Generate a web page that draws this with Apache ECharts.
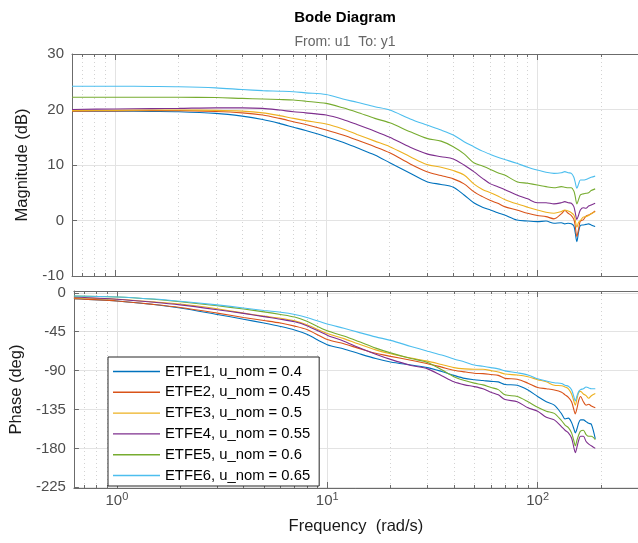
<!DOCTYPE html>
<html><head><meta charset="utf-8">
<script src="https://cdn.jsdelivr.net/npm/echarts@6/dist/echarts.min.js"></script>
<style>html,body{margin:0;padding:0;background:#fff}#c{width:638px;height:543px}</style>
</head><body><div id="c"></div>
<script>
const freq = [0.625,1,1.5,2,3,4,5,6,7,8,10,12,14,17,20,25,30,35,40,45,50,55,60,65,70,80,90,100,110,120,130,135,140,145,149,151,154,157,160,165,170,175,180,188];
const seriesNames = ['ETFE1, u_nom = 0.4','ETFE2, u_nom = 0.45','ETFE3, u_nom = 0.5','ETFE4, u_nom = 0.55','ETFE5, u_nom = 0.6','ETFE6, u_nom = 0.65'];
const magETFE1 = [19.7,19.7,19.65,19.6,19.3,18.8,18.2,17.5,16.8,16.2,15.1,14.1,13.1,11.8,10.4,8.5,7.0,6.5,6.0,4.6,3.2,2.4,1.9,1.4,1.0,0.1,-0.1,-0.2,-0.1,-0.5,-0.4,-0.6,-0.5,-0.6,-1.0,-2.0,-3.8,-2.0,-0.9,-0.8,-0.7,-0.6,-0.8,-1.1];
const magETFE2 = [19.7,19.75,19.8,19.8,19.65,19.4,19.0,18.4,17.8,17.3,16.3,15.4,14.5,13.3,12.2,10.2,8.8,8.1,7.5,6.6,5.2,4.3,3.6,3.1,2.5,1.9,1.3,0.9,0.7,0.3,1.2,1.8,1.3,0.9,0.2,-0.8,-2.9,-1.5,-0.1,0.1,0.8,1.0,1.2,1.7];
const magETFE3 = [19.8,19.85,19.9,19.9,19.85,19.7,19.4,18.9,18.4,18.0,17.4,16.5,15.5,14.3,13.3,11.5,10.1,9.6,9.0,8.2,6.6,5.6,5.0,4.4,3.8,3.0,2.4,1.9,1.5,1.3,1.6,1.9,1.7,1.4,1.0,0.3,-1.2,-0.3,0.0,0.6,0.7,0.9,1.2,1.6];
const magETFE4 = [20.0,20.1,20.15,20.2,20.3,20.3,20.2,19.9,19.6,19.4,19.0,18.2,17.3,16.1,15.0,13.2,12.0,11.5,11.1,10.0,8.8,7.6,6.6,6.1,5.6,4.6,3.9,3.2,3.2,3.0,3.2,3.4,3.2,3.1,2.5,1.6,0.2,1.0,1.9,2.3,2.2,2.6,2.8,3.1];
const magETFE5 = [22.2,22.2,22.2,22.2,22.15,22.0,21.9,21.8,21.7,21.5,21.1,20.3,19.5,18.4,17.6,16.0,14.8,14.3,13.3,12.0,10.4,9.8,9.2,8.6,8.2,7.0,6.7,6.4,6.1,5.9,6.1,6.0,5.9,5.9,5.3,4.5,3.0,3.8,4.6,4.8,4.9,5.0,5.4,5.7];
const magETFE6 = [24.2,24.2,24.15,24.1,23.9,23.6,23.4,23.3,23.2,23.0,22.7,21.9,21.3,20.5,19.9,18.3,17.2,16.3,15.4,14.2,13.3,12.5,11.9,11.4,11.0,10.3,9.6,9.1,8.7,8.5,8.6,8.8,8.6,8.5,7.8,7.0,5.8,6.6,7.3,7.3,7.4,7.6,7.8,8.0];
const phaseETFE1 = [-6.7,-9.4,-13.5,-17.5,-25,-30.5,-35,-39,-43,-48,-60,-65,-70,-76,-80,-83.5,-86.5,-91,-95.5,-99,-100.5,-101.5,-102.5,-103,-106,-107,-112.5,-120,-126,-130,-140,-146,-145,-150,-158,-162,-157,-150,-147,-147,-149,-151,-152,-169];
const phaseETFE2 = [-6.7,-9.4,-13.5,-17,-23.5,-28.5,-32,-35,-38.5,-42.5,-54,-59,-64,-70,-73.5,-78,-82,-86,-89.5,-91.5,-93,-93.5,-94.5,-95.5,-99,-100,-104.5,-109.5,-111,-112.5,-115,-118,-121,-126,-136,-140,-133,-124,-120,-126,-130,-129,-131,-133];
const phaseETFE3 = [-5.6,-7.5,-10.5,-13,-18.5,-23.5,-27,-29.5,-32.5,-37,-47,-53,-59,-66,-70.5,-75.5,-79,-83,-86.5,-88,-88.5,-88.5,-90,-91.5,-94,-95,-97,-100.5,-103,-107,-107.5,-109,-111,-117,-126,-130,-122,-115,-114,-117,-119,-122,-119,-116.5];
const phaseETFE4 = [-4.8,-7.5,-11,-14,-19.5,-23.8,-27.5,-30.5,-33.5,-38,-49,-56,-63,-71,-77,-84,-88,-96,-103,-106.5,-108.5,-111,-115,-118,-123.5,-126,-133,-137,-144,-147,-155,-159,-162,-168,-180,-185,-178,-170,-166,-166,-172,-175,-177,-180];
const phaseETFE5 = [-3.7,-4.8,-7.5,-10.3,-15,-18.8,-22,-25,-28,-33,-44,-50,-56,-64,-69.5,-76,-80.5,-89,-97,-101.5,-104.5,-106.5,-109.5,-112,-118,-120,-126,-132.5,-137,-139.5,-148,-153,-156,-162,-172,-177,-170,-164,-160,-159,-164,-166,-166,-170];
const phaseETFE6 = [-3.7,-4.8,-7.2,-9.8,-14,-17.5,-20.5,-22.5,-25,-28.5,-36,-41,-45.5,-51,-55,-62,-67.5,-72,-76.5,-80,-83.5,-85,-86.5,-88,-90.3,-92.5,-95,-99.5,-102,-104,-105,-107,-108,-112,-121,-125,-119,-114,-112,-111,-109,-110,-111,-111];
const magTicks = [-10,0,10,20,30];
const phaseTicks = [0,-45,-90,-135,-180,-225];
const decadeTicks = [1,10,100];
const minorFreqTicks = [0.7,0.8,0.9,2,3,4,5,6,7,8,9,20,30,40,50,60,70,80,90,200];
const freqRange = [0.625, 300];
const magRange = [-10, 30];
const phaseRange = [-225.8, 2.1];

const colors = ['#0072BD','#D95319','#EDB120','#7E2F8E','#77AC30','#4DBEEE'];
const mags = [magETFE1,magETFE2,magETFE3,magETFE4,magETFE5,magETFE6];
const phases = [phaseETFE1,phaseETFE2,phaseETFE3,phaseETFE4,phaseETFE5,phaseETFE6];
const FONT = '"Liberation Sans", Arial, Helvetica, sans-serif';
const lg = v => Math.log10(v);
const AX = '#6b6b6b';

function xAxes(gridIndex, labels) {
  const base = {type:'value', gridIndex, min: lg(freqRange[0]), max: lg(freqRange[1]),
    axisLine:{onZero:false, lineStyle:{color:AX, width:1}}};
  return [
    Object.assign({}, base, {position:'bottom',
      axisTick:{inside:true, length:6, customValues: decadeTicks.map(lg), lineStyle:{color:AX}},
      axisLabel: labels ? {show:true, customValues: decadeTicks.map(lg), margin:3, color:'#4d4d4d', fontFamily:FONT, fontSize:15,
        formatter: v => '10{s|' + Math.round(v) + '}',
        rich:{s:{fontSize:11, fontFamily:FONT, color:'#4d4d4d', padding:[0,0,9,0]}}} : {show:false},
      splitLine:{show:true, lineStyle:{color:'#e3e3e3', width:1}},
      name: labels ? 'Frequency  (rad/s)' : '', nameLocation:'middle', nameGap:30,
      nameTextStyle:{fontFamily:FONT, fontSize:16.5, color:'#1a1a1a'}}),
    Object.assign({}, base, {position:'bottom', axisLine:{show:false, onZero:false},
      axisTick:{inside:true, length:3, customValues: minorFreqTicks.map(lg), lineStyle:{color:AX}},
      axisLabel:{show:false},
      splitLine:{show:true, lineStyle:{color:'#d3d3d3', width:1, type:[1,3]}}}),
    Object.assign({}, base, {position:'top',
      axisTick:{inside:true, length:6, customValues: decadeTicks.map(lg), lineStyle:{color:AX}},
      axisLabel:{show:false}, splitLine:{show:false}}),
    Object.assign({}, base, {position:'top', axisLine:{show:false, onZero:false},
      axisTick:{inside:true, length:3, customValues: minorFreqTicks.map(lg), lineStyle:{color:AX}},
      axisLabel:{show:false}, splitLine:{show:false}})
  ];
}

const series = [];
seriesNames.forEach((n, i) => {
  series.push({type:'line', name:n, xAxisIndex:0, yAxisIndex:0, symbol:'none', smooth:0.3,
    lineStyle:{width:1.1, color:colors[i]}, itemStyle:{color:colors[i]},
    data: freq.map((f, k) => [lg(f), mags[i][k]])});
  series.push({type:'line', name:n, xAxisIndex:4, yAxisIndex:1, symbol:'none', smooth:0.3,
    lineStyle:{width:1.1, color:colors[i]}, itemStyle:{color:colors[i]},
    data: freq.map((f, k) => [lg(f), phases[i][k]])});
});

const chart = echarts.init(document.getElementById('c'), null, {renderer:'canvas'});
chart.setOption({
  animation:false,
  backgroundColor:'#fff',
  textStyle:{fontFamily:FONT},
  title:[
    {text:'Bode Diagram', left:340, top:5, textAlign:'center',
      textStyle:{fontFamily:FONT, fontSize:15, fontWeight:'bold', color:'#000'}},
    {text:'From: u1  To: y1', left:340, top:30, textAlign:'center',
      textStyle:{fontFamily:FONT, fontSize:14, fontWeight:'normal', color:'#666'}}
  ],
  grid:[
    {left:72, top:54, width:568, height:222},
    {left:72, top:291, width:568, height:197}
  ],
  xAxis: xAxes(0, false).concat(xAxes(1, true)),
  yAxis:[
    {type:'value', gridIndex:0, min:magRange[0], max:magRange[1], interval:10,
      axisLine:{show:true, onZero:false, lineStyle:{color:AX}},
      axisTick:{show:true, inside:true, length:5, lineStyle:{color:AX}},
      axisLabel:{margin:8, color:'#4d4d4d', fontFamily:FONT, fontSize:15, customValues: magTicks},
      splitLine:{show:true, lineStyle:{color:'#e3e3e3', width:1}},
      name:'Magnitude (dB)', nameLocation:'middle', nameGap:38,
      nameTextStyle:{fontFamily:FONT, fontSize:16.5, color:'#1a1a1a'}},
    {type:'value', gridIndex:1, min:phaseRange[0], max:phaseRange[1],
      axisLine:{show:true, onZero:false, lineStyle:{color:AX}},
      axisTick:{show:true, inside:true, length:5, customValues: phaseTicks, lineStyle:{color:AX}},
      axisLabel:{margin:8, color:'#4d4d4d', fontFamily:FONT, fontSize:15, customValues: phaseTicks},
      splitLine:{show:true, lineStyle:{color:'#e3e3e3', width:1}},
      name:'Phase (deg)', nameLocation:'middle', nameGap:38,
      nameTextStyle:{fontFamily:FONT, fontSize:16.5, color:'#1a1a1a'}}
  ],
  legend:{
    orient:'vertical', left:108, top:357,
    data: seriesNames,
    icon:'rect',
    backgroundColor:'#fff', borderColor:'#262626', borderWidth:1,
    padding:[7,9,3,5], itemGap:5.8, itemWidth:47, itemHeight:1.4,
    textStyle:{fontFamily:FONT, fontSize:14.8, lineHeight:15, color:'#000'}
  },
  series
});
</script></body></html>
